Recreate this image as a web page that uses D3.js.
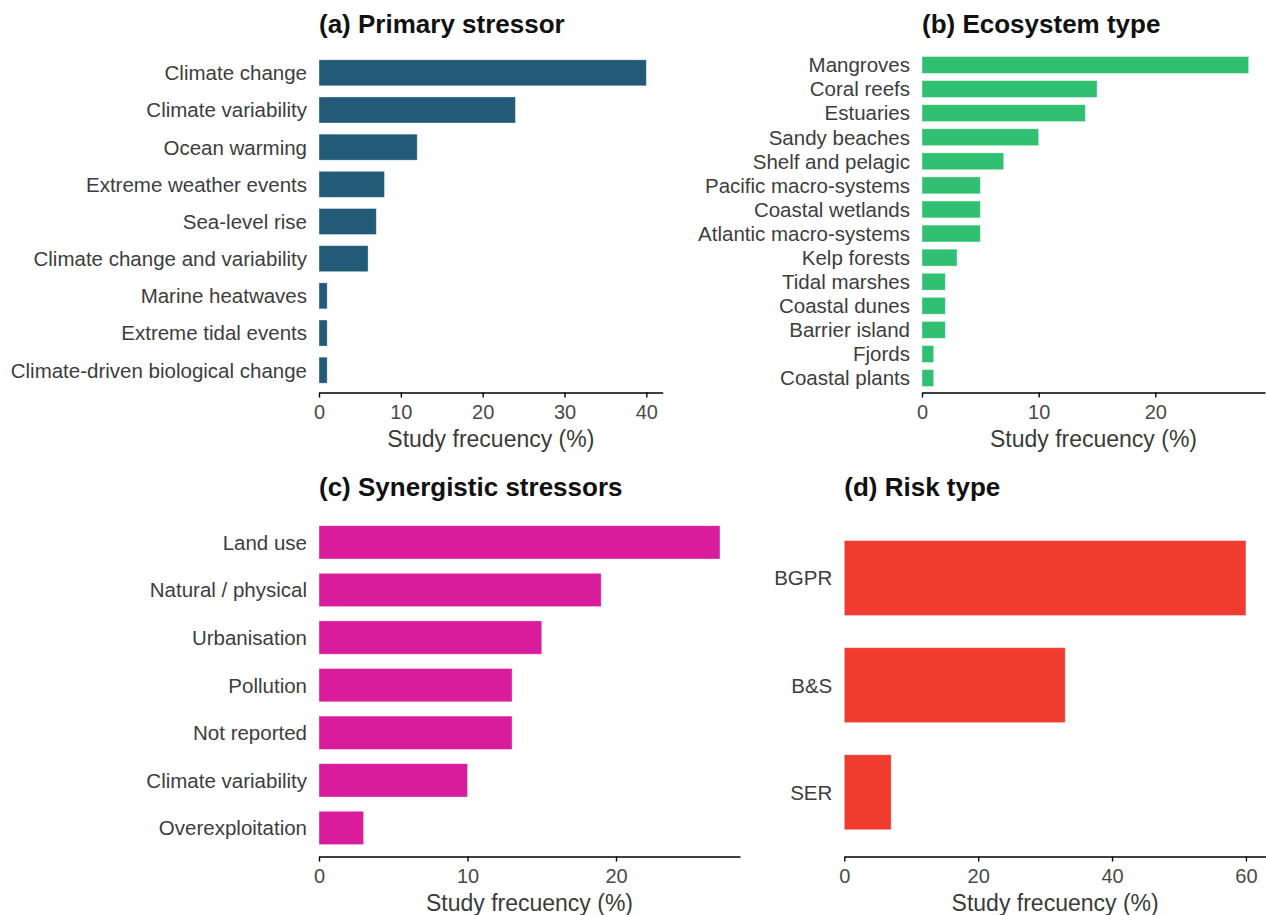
<!DOCTYPE html>
<html>
<head>
<meta charset="utf-8">
<script src="https://cdn.jsdelivr.net/npm/d3@7"></script>
<style>
  html, body { margin: 0; padding: 0; background: #fff; }
  svg { display: block; font-family: "Liberation Sans", Arial, sans-serif; }
</style>
</head>
<body>
<svg id="chart" width="1266" height="915"></svg>
<script>
// (a) Primary stressor
const stressorCats = ["Climate change", "Climate variability", "Ocean warming", "Extreme weather events",
  "Sea-level rise", "Climate change and variability", "Marine heatwaves", "Extreme tidal events",
  "Climate-driven biological change"];
const stressorVals = [40, 24, 12, 8, 7, 6, 1, 1, 1];
const stressorTicks = [0, 10, 20, 30, 40];

// (b) Ecosystem type
const ecosystemCats = ["Mangroves", "Coral reefs", "Estuaries", "Sandy beaches", "Shelf and pelagic",
  "Pacific macro-systems", "Coastal wetlands", "Atlantic macro-systems", "Kelp forests",
  "Tidal marshes", "Coastal dunes", "Barrier island", "Fjords", "Coastal plants"];
const ecosystemVals = [28, 15, 14, 10, 7, 5, 5, 5, 3, 2, 2, 2, 1, 1];
const ecosystemTicks = [0, 10, 20];

// (c) Synergistic stressors
const synergisticCats = ["Land use", "Natural / physical", "Urbanisation", "Pollution", "Not reported",
  "Climate variability", "Overexploitation"];
const synergisticVals = [27, 19, 15, 13, 13, 10, 3];
const synergisticTicks = [0, 10, 20];

// (d) Risk type
const riskCats = ["BGPR", "B&S", "SER"];
const riskVals = [60, 33, 7];
const riskTicks = [0, 20, 40, 60];

const axisTitle = "Study frecuency (%)";

const svg = d3.select("#chart");

const panels = [
  { title: "(a) Primary stressor", cats: stressorCats, vals: stressorVals, ticks: stressorTicks,
    color: "#235a78", x0: 319, x1: 662.7, y0: 50.5, y1: 392.5 },
  { title: "(b) Ecosystem type", cats: ecosystemCats, vals: ecosystemVals, ticks: ecosystemTicks,
    color: "#31c072", x0: 922, x1: 1265, y0: 50.5, y1: 392.5 },
  { title: "(c) Synergistic stressors", cats: synergisticCats, vals: synergisticVals, ticks: synergisticTicks,
    color: "#d81c9b", x0: 319, x1: 740, y0: 513.8, y1: 856.5 },
  { title: "(d) Risk type", cats: riskCats, vals: riskVals, ticks: riskTicks,
    color: "#f03c30", x0: 844.3, x1: 1266, y0: 513.8, y1: 856.5 }
];

panels.forEach(p => {
  const g = svg.append("g");
  const rows = p.cats.map((c, i) => ({ cat: c, val: p.vals[i] }));

  // x runs from zero with 5% head room on the right
  const x = d3.scaleLinear()
    .domain([0, d3.max(p.vals) * 1.05])
    .range([p.x0, p.x1]);

  // discrete rows: bars 0.7 of a step, 0.6 step margin at both ends
  const y = d3.scaleBand()
    .domain(p.cats)
    .range([p.y0, p.y1])
    .paddingInner(0.3)
    .paddingOuter(0.25);

  g.selectAll("rect.bar")
    .data(rows)
    .join("rect")
    .attr("class", "bar")
    .attr("x", x(0))
    .attr("y", d => y(d.cat))
    .attr("width", d => x(d.val) - x(0))
    .attr("height", y.bandwidth())
    .attr("fill", p.color)
    .attr("stroke", "#ffffff")
    .attr("stroke-opacity", 0.45)
    .attr("stroke-width", 0.8);

  // category labels
  g.selectAll("text.cat")
    .data(rows)
    .join("text")
    .attr("class", "cat")
    .attr("x", p.x0 - 12)
    .attr("y", d => y(d.cat) + y.bandwidth() / 2)
    .attr("dy", "0.36em")
    .attr("text-anchor", "end")
    .attr("font-size", 20.5)
    .attr("fill", "#3d3d3d")
    .text(d => d.cat);

  // bottom axis
  const axis = d3.axisBottom(x)
    .tickValues(p.ticks)
    .tickFormat(d3.format("d"))
    .tickSizeInner(5)
    .tickSizeOuter(0)
    .tickPadding(7);

  const ax = g.append("g")
    .attr("transform", `translate(0,${p.y1})`)
    .call(axis);
  ax.select(".domain").attr("stroke", "#000").attr("stroke-width", 1.6);
  ax.selectAll(".tick line").attr("stroke", "#000").attr("stroke-width", 1.4);
  ax.selectAll(".tick text")
    .attr("font-size", 20)
    .attr("font-family", "Liberation Sans, Arial, sans-serif")
    .attr("fill", "#4a4a4a");

  g.append("text")
    .attr("x", (p.x0 + p.x1) / 2)
    .attr("y", p.y1 + 54)
    .attr("text-anchor", "middle")
    .attr("font-size", 23)
    .attr("fill", "#3a3a3a")
    .text(axisTitle);

  g.append("text")
    .attr("x", p.x0)
    .attr("y", p.y0 - 17.5)
    .attr("font-size", 26)
    .attr("font-weight", "bold")
    .attr("fill", "#111")
    .text(p.title);
});
</script>
</body>
</html>
